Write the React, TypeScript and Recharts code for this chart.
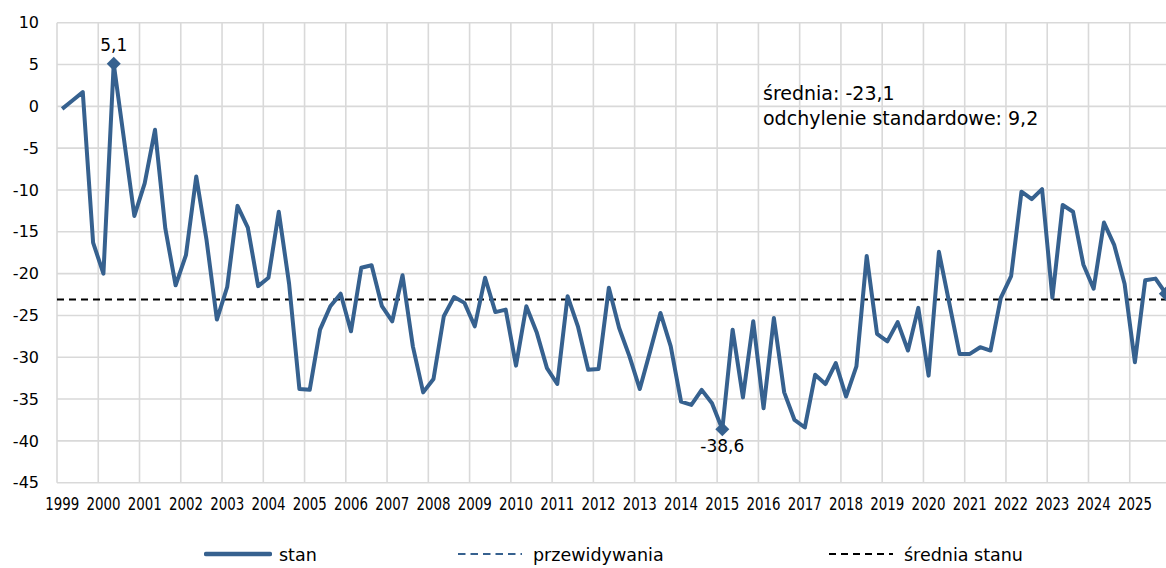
import { LineChart, Line, XAxis, YAxis, CartesianGrid, ReferenceLine } from 'recharts';

const YEARS = [
  1999, 2000, 2001, 2002, 2003, 2004, 2005, 2006, 2007, 2008, 2009, 2010, 2011, 2012,
  2013, 2014, 2015, 2016, 2017, 2018, 2019, 2020, 2021, 2022, 2023, 2024, 2025,
];
const QUARTERS = ['I', 'II', 'III', 'IV'];

// stan, quarterly from 1999 Q1
const STAN = [
  -0.3, 0.7, 1.7, -16.3, -20.0, 5.1, -4.0, -13.1, -9.2, -2.8, -14.6, -21.4,
  -17.8, -8.4, -16.0, -25.5, -21.6, -11.9, -14.5, -21.5, -20.5, -12.6, -21.2, -33.8,
  -33.9, -26.7, -23.9, -22.4, -26.9, -19.3, -19.0, -23.9, -25.7, -20.2, -28.7, -34.2,
  -32.6, -25.1, -22.8, -23.5, -26.3, -20.5, -24.6, -24.3, -31.0, -23.9, -27.0, -31.3,
  -33.2, -22.7, -26.3, -31.5, -31.4, -21.7, -26.5, -29.9, -33.8, -29.3, -24.7, -28.7,
  -35.3, -35.7, -33.9, -35.5, -38.6, -26.7, -34.8, -25.7, -36.1, -25.3, -34.2, -37.5,
  -38.4, -32.1, -33.2, -30.7, -34.7, -31.1, -17.9, -27.2, -28.1, -25.8, -29.2, -24.1,
  -32.2, -17.4, -23.5, -29.6, -29.6, -28.8, -29.2, -22.9, -20.3, -10.2, -11.1, -9.9,
  -22.9, -11.8, -12.6, -18.9, -21.8, -13.9, -16.6, -21.2, -30.6, -20.8, -20.6, -22.4,
];
// no expectation values are drawn in the plotted range
const PRZEWIDYWANIA: (number | null)[] = [];

const MEAN_STAN = -23.1;
const STD_STAN = 9.2;

const Y_TICKS = [10, 5, 0, -5, -10, -15, -20, -25, -30, -35, -40, -45];

const BLUE = '#36618f';
const GRID = '#d9d9d9';
const FONT = "'DejaVu Sans', Verdana, sans-serif";

const data = YEARS.flatMap((y, yi) =>
  QUARTERS.map((q, qi) => {
    const i = yi * 4 + qi;
    return {
      i,
      label: `${q} kw. ${y}`,
      stan: STAN[i] ?? null,
      przewidywania: PRZEWIDYWANIA[i] ?? null,
    };
  }),
);

const yearTicks = YEARS.map((_, k) => k * 4);
const yearBounds = [...YEARS.map((_, k) => k * 4 - 0.5), YEARS.length * 4 - 0.5];

const fmt = (v: number) => v.toFixed(1).replace('.', ',');

const maxIdx = STAN.indexOf(Math.max(...STAN));
const minIdx = STAN.indexOf(Math.min(...STAN));
const lastIdx = STAN.length - 1;

function StanDot(props: any) {
  const { cx, cy, index, value } = props;
  if (index !== maxIdx && index !== minIdx && index !== lastIdx) return <g key={index} />;
  const r = 7;
  return (
    <g key={index}>
      <polygon
        points={`${cx},${cy - r} ${cx + r},${cy} ${cx},${cy + r} ${cx - r},${cy}`}
        fill={BLUE}
      />
      {index === maxIdx && (
        <text x={cx} y={cy - 13} textAnchor="middle" fontSize={17} fontFamily={FONT} fill="#000">
          {fmt(value)}
        </text>
      )}
      {index === minIdx && (
        <text x={cx} y={cy + 23} textAnchor="middle" fontSize={17} fontFamily={FONT} fill="#000">
          {fmt(value)}
        </text>
      )}
    </g>
  );
}

// year labels in the original are set in a narrow face
function YearTick({ x, y, payload }: any) {
  return (
    <text
      x={x}
      y={y}
      dy="0.71em"
      textAnchor="middle"
      fontSize={17}
      fontFamily={FONT}
      textLength={34}
      lengthAdjust="spacingAndGlyphs"
      fill="#000"
    >
      {YEARS[payload.value / 4]}
    </text>
  );
}

const LEGEND = [
  { name: 'stan', left: 204, color: BLUE, width: 4.5, dash: undefined as string | undefined },
  { name: 'przewidywania', left: 458, color: BLUE, width: 2, dash: '7.5 5' },
  { name: 'średnia stanu', left: 829, color: '#000', width: 2, dash: '7 5' },
];

export default function App() {
  return (
    <div
      style={{
        position: 'fixed',
        left: 0,
        top: 0,
        width: 1166,
        height: 568,
        overflow: 'hidden',
        background: '#fff',
      }}
    >
      <LineChart
        width={1171}
        height={530}
        data={data}
        margin={{ top: 22.7, right: 0, bottom: 7.3, left: 0 }}
      >
        <CartesianGrid vertical={false} stroke={GRID} strokeWidth={1.6} />
        {yearBounds.map((b) => (
          <ReferenceLine key={b} x={b} stroke={GRID} strokeWidth={1.6} />
        ))}
        <XAxis
          type="number"
          dataKey="i"
          domain={[-0.5, YEARS.length * 4 - 0.5]}
          ticks={yearTicks}
          interval={0}
          axisLine={false}
          tickLine={false}
          tickSize={0}
          tickMargin={15}
          height={40}
          tick={<YearTick />}
        />
        <YAxis
          type="number"
          domain={[-45, 10]}
          ticks={Y_TICKS}
          interval={0}
          axisLine={false}
          tickLine={false}
          tickSize={0}
          tickMargin={18}
          width={57}
          tick={{ fontSize: 16, fontFamily: FONT, fill: '#000' }}
        />
        <ReferenceLine
          y={MEAN_STAN}
          stroke="#000"
          strokeWidth={2}
          strokeDasharray="7 5"
        />
        <Line
          type="linear"
          dataKey="przewidywania"
          name="przewidywania"
          stroke={BLUE}
          strokeWidth={2}
          strokeDasharray="7.5 5"
          dot={false}
          activeDot={false}
          isAnimationActive={false}
        />
        <Line
          type="linear"
          dataKey="stan"
          name="stan"
          stroke={BLUE}
          strokeWidth={4}
          strokeLinejoin="round"
          dot={StanDot}
          activeDot={false}
          isAnimationActive={false}
        />
      </LineChart>

      <div
        style={{
          position: 'absolute',
          left: 763,
          top: 81,
          fontFamily: FONT,
          fontSize: 19,
          lineHeight: '25px',
          color: '#000',
          whiteSpace: 'nowrap',
        }}
      >
        <div>średnia: {fmt(MEAN_STAN)}</div>
        <div>odchylenie standardowe: {fmt(STD_STAN)}</div>
      </div>

      {LEGEND.map((item) => (
        <div
          key={item.name}
          style={{
            position: 'absolute',
            left: item.left,
            top: 543,
            height: 24,
            display: 'flex',
            alignItems: 'center',
            fontFamily: FONT,
            fontSize: 17.5,
            color: '#000',
            whiteSpace: 'nowrap',
          }}
        >
          <svg width={68} height={10} style={{ marginRight: 7 }}>
            <line
              x1={item.dash ? 0 : 2}
              x2={item.dash ? 64 : 66}
              y1={4}
              y2={4}
              stroke={item.color}
              strokeWidth={item.width}
              strokeDasharray={item.dash}
              strokeLinecap={item.dash ? 'butt' : 'round'}
            />
          </svg>
          <span>{item.name}</span>
        </div>
      ))}
    </div>
  );
}
